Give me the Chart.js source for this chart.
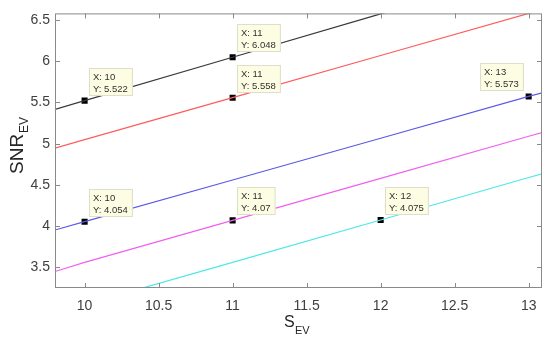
<!DOCTYPE html>
<html>
<head>
<meta charset="utf-8">
<script src="https://cdn.jsdelivr.net/npm/chart.js@4/dist/chart.umd.min.js"></script>
<style>
  html, body { margin: 0; padding: 0; background: #fff; }
  #wrap { width: 550px; height: 342px; }
</style>
</head>
<body>
<div id="wrap"><canvas id="myChart"></canvas></div>
<script>
// x positions where each curve was read
var xs = [9.8, 10, 11, 12, 13, 13.1];
var blackY   = [5.417, 5.522, 6.048, 6.574, 7.1, 7.15];
var redY     = [4.946, 5.05, 5.558, 6.07, 6.58, 6.63];
var blueY    = [3.953, 4.054, 4.56, 5.066, 5.573, 5.62];
var magentaY = [3.45, 3.56, 4.07, 4.58, 5.09, 5.14];
var cyanY    = [2.95, 3.05, 3.56, 4.075, 4.59, 4.64];

// data tips
var tipX = [10, 11, 11, 10, 11, 12, 13];
var tipY = [5.522, 6.048, 5.558, 4.054, 4.07, 4.075, 5.573];

var xTicks = [10, 10.5, 11, 11.5, 12, 12.5, 13];
var yTicks = [3.5, 4, 4.5, 5, 5.5, 6, 6.5];

var FONT = '"Liberation Sans", Arial, sans-serif';

function pts(x, y) {
  return x.map(function (v, i) { return { x: v, y: y[i] }; });
}

var boxPlugin = {
  id: 'box',
  afterDraw: function (chart) {
    var c = chart.ctx, a = chart.chartArea;
    var sx = chart.scales.x, sy = chart.scales.y;
    c.save();
    c.strokeStyle = '#8a8a8a';
    c.lineWidth = 1;
    c.strokeRect(a.left + 0.5, a.top + 0.5, a.right - a.left - 1, a.bottom - a.top - 1);
    c.beginPath();
    xTicks.forEach(function (t) {
      var p = Math.round(sx.getPixelForValue(t)) + 0.5;
      c.moveTo(p, a.bottom); c.lineTo(p, a.bottom - 5);
      c.moveTo(p, a.top); c.lineTo(p, a.top + 5);
    });
    yTicks.forEach(function (t) {
      var p = Math.round(sy.getPixelForValue(t)) + 0.5;
      c.moveTo(a.left, p); c.lineTo(a.left + 5, p);
      c.moveTo(a.right, p); c.lineTo(a.right - 5, p);
    });
    c.stroke();

    // data tip boxes
    c.font = '9.5px ' + FONT;
    c.textBaseline = 'middle';
    tipX.forEach(function (tx, i) {
      var px = sx.getPixelForValue(tx), py = sy.getPixelForValue(tipY[i]);
      var l2 = 'Y: ' + tipY[i];
      var w = Math.max(c.measureText(l2).width, 20) + 9;
      var bx = Math.round(px + 4), by = Math.round(py - 33);
      if (bx + w > a.right) bx = Math.round(px - 5 - w);
      c.fillStyle = '#fdfde4';
      c.fillRect(bx, by, w, 28);
      c.strokeStyle = '#dedecc';
      c.strokeRect(bx + 0.5, by + 0.5, w - 1, 27);
      c.fillStyle = '#303030';
      c.fillText('X: ' + tx, bx + 4, by + 9);
      c.fillText(l2, bx + 4, by + 21);
    });

    // axis titles with subscripts
    c.fillStyle = '#262626';
    c.textBaseline = 'alphabetic';
    c.font = '16px ' + FONT;
    c.fillText('S', 284, 327);
    c.font = '11px ' + FONT;
    c.fillText('EV', 295, 334);
    c.save();
    c.translate(23, 174);
    c.rotate(-Math.PI / 2);
    c.font = '19px ' + FONT;
    c.fillText('SNR', 0, 0);
    c.font = '12px ' + FONT;
    c.fillText('EV', 41, 5);
    c.restore();
    c.restore();
  }
};

var ctx = document.getElementById('myChart').getContext('2d');
var myChart = new Chart(ctx, {
  type: 'line',
  data: {
    datasets: [
      { data: pts(xs, blackY), borderColor: '#3a3a3a', borderWidth: 1.2, pointRadius: 0 },
      { data: pts(xs, redY), borderColor: '#ff5c5c', borderWidth: 1.2, pointRadius: 0 },
      { data: pts(xs, blueY), borderColor: '#5a5ae6', borderWidth: 1.2, pointRadius: 0 },
      { data: pts(xs, magentaY), borderColor: '#f060f0', borderWidth: 1.2, pointRadius: 0 },
      { data: pts(xs, cyanY), borderColor: '#4ee8e8', borderWidth: 1.2, pointRadius: 0 },
      { data: pts(tipX, tipY), showLine: false, pointStyle: 'rect', pointRadius: 4.3,
        backgroundColor: '#000', borderColor: '#000', borderWidth: 0 }
    ]
  },
  options: {
    responsive: true,
    maintainAspectRatio: false,
    animation: false,
    layout: { padding: { top: 12, right: 8, left: 0, bottom: 0 } },
    plugins: { legend: { display: false }, tooltip: { enabled: false } },
    scales: {
      x: {
        type: 'linear', min: 9.8, max: 13.09,
        grid: { display: false, drawTicks: false }, border: { display: false },
        afterBuildTicks: function (axis) { axis.ticks = xTicks.map(function (v) { return { value: v }; }); },
        afterFit: function (axis) { axis.height = 54; },
        ticks: { color: '#404040', padding: 10, maxRotation: 0,
          callback: function (v) { return String(v); },
          font: { size: 14, family: FONT } }
      },
      y: {
        type: 'linear', min: 3.25, max: 6.58,
        grid: { display: false, drawTicks: false }, border: { display: false },
        afterBuildTicks: function (axis) { axis.ticks = yTicks.map(function (v) { return { value: v }; }); },
        afterFit: function (axis) { axis.width = 55; },
        ticks: { color: '#404040', padding: 5,
          callback: function (v) { return String(v); },
          font: { size: 14, family: FONT } }
      }
    }
  },
  plugins: [boxPlugin]
});
</script>
</body>
</html>
